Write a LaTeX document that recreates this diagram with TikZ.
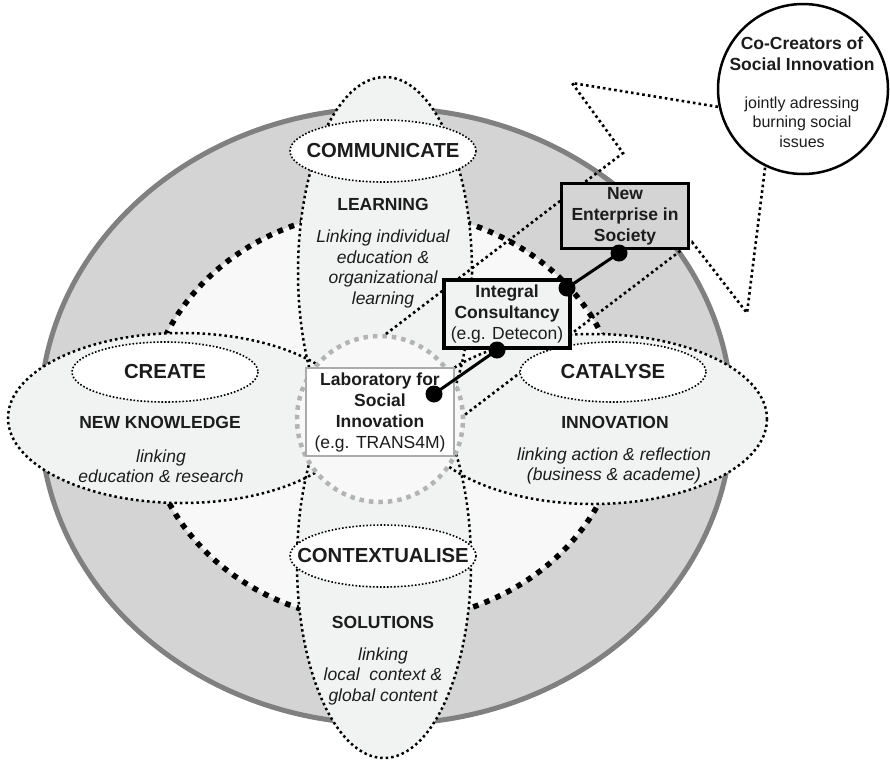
\documentclass[tikz,border=0pt]{standalone}
\usepackage{fontspec}
\setmainfont{Liberation Sans}
\definecolor{ringgray}{HTML}{D4D4D4}
\definecolor{ringedge}{HTML}{808080}
\definecolor{innerfill}{HTML}{F8F8F8}
\definecolor{petalfill}{HTML}{F1F2F2}
\definecolor{hubgray}{HTML}{B3B3B3}
\definecolor{labgray}{HTML}{ABABAB}
\definecolor{txt}{HTML}{1C1C1C}
\begin{document}
\begin{tikzpicture}[x=1pt,y=-1pt,
  ring/.style={fill=ringgray,draw=ringedge,line width=5pt},
  heavyring/.style={draw=black,line width=5.5pt,dash pattern=on 5.5pt off 6.5pt},
  petaledge/.style={draw=black,line width=2.5pt,dash pattern=on 2.5pt off 3pt},
  tagedge/.style={fill=white,draw=black,line width=1.6pt,dash pattern=on 1.6pt off 1.9pt},
  zig/.style={draw=black,line width=2.6pt,dash pattern=on 2.6pt off 3.1pt},
  tagtext/.style={font=\fontsize{20.3}{24}\selectfont\bfseries,text=txt,inner sep=0pt},
  headtext/.style={font=\fontsize{17.5}{20.7}\selectfont\bfseries,text=txt,inner sep=0pt,align=center},
  bodytext/.style={font=\fontsize{17.5}{20.5}\selectfont\itshape,text=txt,inner sep=0pt,align=center},
  boxtext/.style={font=\fontsize{17.5}{21}\selectfont,text=txt,align=center,inner sep=0pt},
  joint/.style={circle,fill=black,minimum size=17pt,inner sep=0pt},
  conn/.style={draw=black,line width=3pt},
]
\useasboundingbox (0,0) rectangle (890,763);

% outer grey ring and inner light region
\path[ring] (386,416) ellipse [x radius=346,y radius=308];
\path[fill=innerfill] (384,416) ellipse [x radius=237,y radius=206];
\path[heavyring] (384,416) ellipse [x radius=237,y radius=206];

% petals
\path[fill=petalfill]
  (385,272) ellipse [x radius=87,y radius=195]
  (384,563) ellipse [x radius=87,y radius=195]
  (182,418) ellipse [x radius=174,y radius=85]
  (593,419) ellipse [x radius=174,y radius=85];
\path[petaledge] (385,272) ellipse [x radius=87,y radius=195];
\path[petaledge] (384,563) ellipse [x radius=87,y radius=195];
\path[petaledge] (182,418) ellipse [x radius=174,y radius=85];
\path[petaledge] (593,419) ellipse [x radius=174,y radius=85];

% hub and co-creators circle
\node[circle,minimum size=166pt,inner sep=0pt,fill=innerfill,draw=hubgray,line width=4.5pt,dash pattern=on 4.5pt off 5pt] (hub) at (380,419) {};
\node[circle,minimum size=170pt,inner sep=0pt,fill=white,draw=black,line width=2.5pt] (cocreate) at (803,89) {};

% zigzag links
\coordinate (za) at (623,153);
\coordinate (zb) at (572,83);
\coordinate (zc) at (692,242);
\coordinate (zd) at (747,313);
\draw[zig] (hub.86) -- (za) -- (zb) -- (cocreate.192);
\draw[zig] (hub.3) -- (zc) -- (zd) -- (cocreate.244);

% label ellipses
\path[tagedge] (383,151) ellipse [x radius=93,y radius=31];
\path[tagedge] (165,372) ellipse [x radius=93,y radius=30];
\path[tagedge] (613,372) ellipse [x radius=93,y radius=30];
\path[tagedge] (383,556) ellipse [x radius=93,y radius=31];
\node[tagtext] (communicate) at (383,151) {COMMUNICATE};
\node[tagtext] (create) at (165,372) {CREATE};
\node[tagtext] (catalyse) at (613,372) {CATALYSE};
\node[tagtext] (contextualise) at (383,556) {CONTEXTUALISE};

% petal texts
\node[headtext] (learning) at (383,204) {LEARNING};
\node[bodytext] (learningtxt) at (383,269) {Linking individual\\education \&\\organizational\\learning};
\node[headtext] (knowledge) at (160,422) {NEW KNOWLEDGE};
\node[bodytext] (knowledgetxt) at (161,466) {linking\\education \& research};
\node[headtext] (innovation) at (615,422) {INNOVATION};
\node[bodytext] (innovationtxt) at (614,466) {linking action \& reflection\\(business \& academe)};
\node[headtext] (solutions) at (383,622) {SOLUTIONS};
\node[bodytext] (solutionstxt) at (383,676) {linking\\local~~context \&\\global content};

% boxes
\node[boxtext,draw=labgray,line width=2.5pt,fill=white,minimum width=148pt,minimum height=88pt] (lab) at (380,412)
  {\textbf{Laboratory for}\\\textbf{Social}\\\textbf{Innovation}\\(e.g. TRANS4M)};
\node[boxtext,draw=black,line width=4pt,fill=petalfill,minimum width=126pt,minimum height=68pt] (integral) at (507,314)
  {\textbf{Integral}\\\textbf{Consultancy}\\(e.g. Detecon)};
\node[boxtext,draw=black,line width=3pt,fill=ringgray,minimum width=127pt,minimum height=65pt] (enterprise) at (625,216)
  {\textbf{New}\\\textbf{Enterprise in}\\\textbf{Society}};

% connectors
\node[joint] (j1) at (434,394) {};
\node[joint] (j2) at (497,350) {};
\node[joint] (j3) at (567,288) {};
\node[joint] (j4) at (619,253) {};
\draw[conn] (j1.center) -- (j2.center);
\draw[conn] (j3.center) -- (j4.center);

% co-creators text
\node[headtext] (cotitle) at (802,54) {Co-Creators of\\Social Innovation};
\node[font=\fontsize{16}{19.3}\selectfont,text=txt,align=center,inner sep=0pt] (cobody) at (802,122) {jointly adressing\\burning social\\issues};
\end{tikzpicture}
\end{document}
